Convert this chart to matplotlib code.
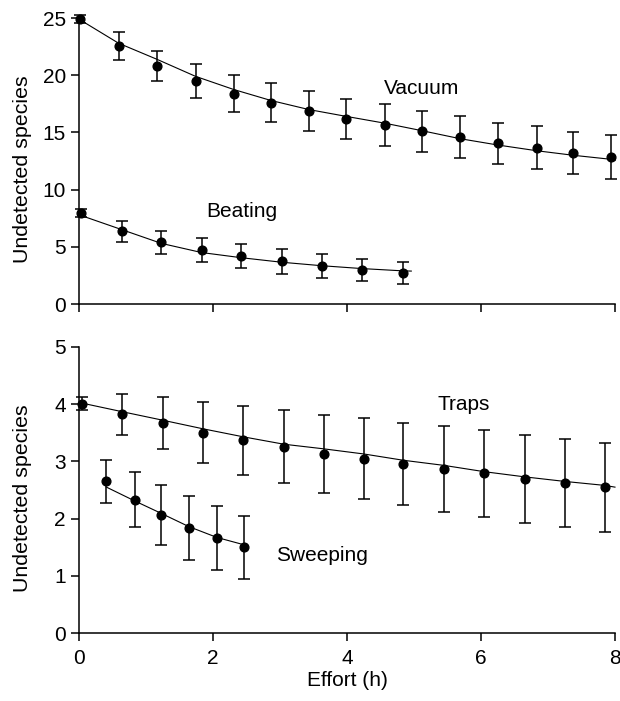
import matplotlib
matplotlib.use('Agg')
import matplotlib.pyplot as plt
import numpy as np

plt.rcParams['font.family'] = ['Liberation Sans', 'DejaVu Sans']
plt.rcParams['font.size'] = 15

# Top panel: vacuum and beating
vac_x = [0.015, 0.59, 1.16, 1.74, 2.31, 2.86, 3.43, 3.99, 4.57, 5.12, 5.69, 6.25, 6.83, 7.38, 7.94]
vac_y = [24.9, 22.55, 20.83, 19.47, 18.4, 17.6, 16.85, 16.2, 15.65, 15.1, 14.6, 14.04, 13.67, 13.23, 12.85]
vac_err = [0.35, 1.2, 1.3, 1.5, 1.6, 1.7, 1.75, 1.75, 1.8, 1.8, 1.85, 1.8, 1.85, 1.85, 1.9]
vac_fit_x = [0.0, 0.59, 1.16, 1.74, 2.31, 2.86, 3.43, 3.99, 4.57, 5.12, 5.69, 6.25, 6.83, 7.38, 7.94, 8.0]
vac_fit_y = [24.9, 22.8, 21.4, 19.9, 18.75, 17.8, 17.0, 16.4, 15.8, 15.15, 14.45, 13.9, 13.4, 13.0, 12.65, 12.55]

beat_x = [0.03, 0.64, 1.23, 1.83, 2.42, 3.03, 3.62, 4.22, 4.83]
beat_y = [7.93, 6.35, 5.39, 4.72, 4.17, 3.73, 3.35, 2.97, 2.68]
beat_err = [0.35, 0.9, 1.0, 1.07, 1.05, 1.08, 1.06, 1.0, 0.97]
beat_fit_x = [0.0, 0.64, 1.23, 1.83, 2.42, 3.03, 3.62, 4.22, 4.83, 4.96]
beat_fit_y = [7.8, 6.5, 5.3, 4.5, 4.05, 3.65, 3.35, 3.1, 2.9, 2.88]

# Bottom panel: traps and sweeping
trap_x = [0.045, 0.64, 1.25, 1.85, 2.45, 3.06, 3.65, 4.25, 4.84, 5.45, 6.05, 6.65, 7.25, 7.85]
trap_y = [4.01, 3.82, 3.67, 3.50, 3.37, 3.26, 3.13, 3.05, 2.95, 2.87, 2.79, 2.70, 2.62, 2.55]
trap_err = [0.11, 0.35, 0.45, 0.53, 0.6, 0.64, 0.68, 0.71, 0.72, 0.75, 0.76, 0.77, 0.77, 0.78]
trap_fit_x = [0.0, 0.64, 1.25, 1.85, 2.45, 3.06, 3.65, 4.25, 4.84, 5.45, 6.05, 6.65, 7.25, 7.85, 8.0]
trap_fit_y = [4.03, 3.87, 3.72, 3.57, 3.43, 3.30, 3.22, 3.13, 3.02, 2.93, 2.82, 2.73, 2.65, 2.58, 2.55]

sweep_x = [0.41, 0.83, 1.23, 1.64, 2.06, 2.47]
sweep_y = [2.65, 2.33, 2.06, 1.84, 1.66, 1.50]
sweep_err = [0.37, 0.48, 0.53, 0.56, 0.56, 0.55]
sweep_fit_y = [2.55, 2.31, 2.09, 1.86, 1.67, 1.54]

fig = plt.figure(figsize=(6.2, 7.01), dpi=100)
ax1 = fig.add_axes([0.1274, 0.5663, 0.8645, 0.408])
ax2 = fig.add_axes([0.1274, 0.097, 0.8645, 0.408])


def draw_series(ax, x, y, err, fx, fy):
    ax.plot(fx, fy, color='black', lw=0.8, clip_on=False)
    ax.errorbar(x, y, yerr=err, fmt='o', color='black', ms=6.3, elinewidth=1.1,
                capsize=4, capthick=1.1, clip_on=False)


draw_series(ax1, vac_x, vac_y, vac_err, vac_fit_x, vac_fit_y)
draw_series(ax1, beat_x, beat_y, beat_err, beat_fit_x, beat_fit_y)
draw_series(ax2, trap_x, trap_y, trap_err, trap_fit_x, trap_fit_y)
draw_series(ax2, sweep_x, sweep_y, sweep_err, sweep_x, sweep_fit_y)

ax1.text(5.11, 18.85, 'Vacuum', ha='center', va='center')
ax1.text(2.43, 8.07, 'Beating', ha='center', va='center')
ax2.text(5.74, 4.0, 'Traps', ha='center', va='center')
ax2.text(3.62, 1.36, 'Sweeping', ha='center', va='center')

for ax in (ax1, ax2):
    ax.set_xlim(0, 8)
    ax.set_xticks([0, 2, 4, 6, 8])
    ax.spines['top'].set_visible(False)
    ax.spines['right'].set_visible(False)
    ax.spines['left'].set_linewidth(1.1)
    ax.spines['bottom'].set_linewidth(1.1)
    ax.tick_params(direction='out', length=6, width=1.1)
    ax.tick_params(axis='x', pad=5.5)
    ax.set_ylabel('Undetected species', fontsize=15.4)
    ax.yaxis.set_label_coords(-0.088, 0.472)

ax1.set_ylim(0, 25)
ax1.set_yticks([0, 5, 10, 15, 20, 25])
ax1.tick_params(axis='x', labelbottom=False)
ax2.set_ylim(0, 5)
ax2.set_yticks([0, 1, 2, 3, 4, 5])
ax2.set_xlabel('Effort (h)', labelpad=2)

fig.savefig('out.png', dpi=100)
